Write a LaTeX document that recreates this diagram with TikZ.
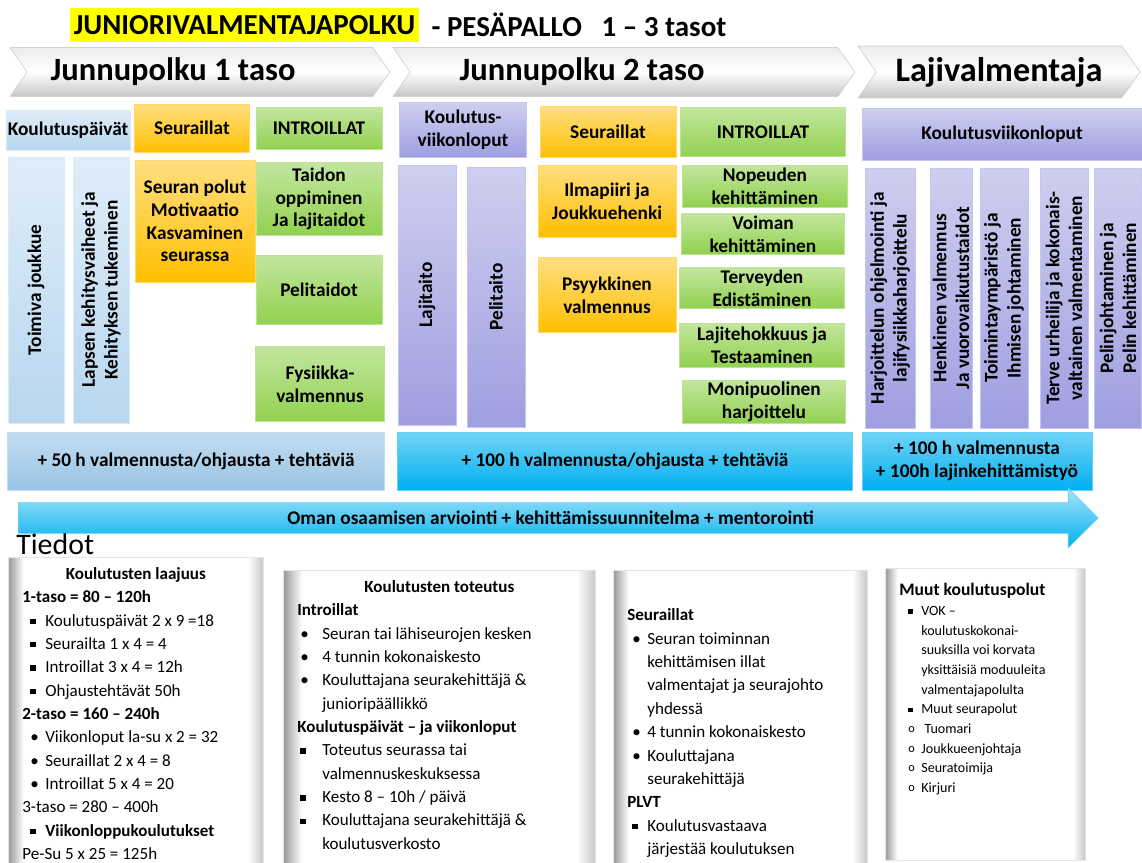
\documentclass[tikz,border=0pt]{standalone}
\usepackage{fontspec}
\setmainfont{Carlito}
\usepackage{tikz}
\usetikzlibrary{positioning,shapes.symbols,shapes.arrows}
\definecolor{paleblue}{rgb}{0.72, 0.84, 0.94}
\definecolor{steelblue}{rgb}{0.60, 0.77, 0.90}
\definecolor{skyblue}{rgb}{0.0, 0.69, 0.94}
\definecolor{amber}{rgb}{1.0, 0.75, 0.0}
\definecolor{leafgreen}{rgb}{0.57, 0.82, 0.31}
\definecolor{lavender}{rgb}{0.62, 0.62, 0.88}
\definecolor{hiyellow}{rgb}{1.0, 1.0, 0.0}

\pgfdeclarehorizontalshading{panelshade}{100bp}{color(0bp)=(black!40); color(25bp)=(black!40); color(28bp)=(white); color(72bp)=(white); color(75bp)=(black!22); color(100bp)=(black!22)}

\newcommand{\boxfont}{\fontsize{11}{13}\selectfont\bfseries}
\newcommand{\sqbul}{\rule[0.25ex]{0.32em}{0.32em}}
\newlength{\bulind}
\newlength{\txtind}
\newcommand{\listitem}[2]{\par\noindent\hangindent=\txtind\hangafter=1\makebox[\txtind][l]{\hspace*{\bulind}#1}#2\par}
\newcommand{\sqitem}[1]{\listitem{\sqbul}{#1}}
\newcommand{\dotitem}[1]{\listitem{\textbullet}{#1}}
\newcommand{\oitem}[1]{\listitem{\raisebox{0.15ex}{\scriptsize o}}{#1}}

\tikzset{
  lbl/.style={inner sep=1pt, align=center, font=\boxfont},
  pale/.style={lbl, top color=paleblue!45!white, bottom color=paleblue, draw=paleblue!50!white},
  steel/.style={lbl, top color=steelblue!60!white, bottom color=steelblue, draw=steelblue!60!white},
  sky/.style={lbl, top color=skyblue!55!white, bottom color=skyblue, draw=skyblue!60!white},
  gold/.style={lbl, top color=amber!50!white, bottom color=amber, draw=amber!60!white},
  leaf/.style={lbl, top color=leafgreen!55!white, bottom color=leafgreen, draw=leafgreen!60!white},
  lilac/.style={lbl, top color=lavender!50!white, bottom color=lavender, draw=lavender!60!white},
  upright/.style={rotate=90},
  header/.style={signal, signal from=west, signal to=east, signal pointer angle=110, top color=gray!15, bottom color=gray!45, middle color=white, draw=gray!35, inner sep=0pt, font=\fontsize{18.5}{20}\selectfont\bfseries},
  panel/.style={shading=panelshade, draw=gray!20, inner xsep=0.28cm, inner ysep=0.2cm, anchor=north west, font=\fontsize{9.7}{13.3}\selectfont},
}

\begin{document}
\begin{tikzpicture}[x=0.02cm, y=-0.02cm]
		\useasboundingbox (0,0) rectangle (1142,862);
		
		% otsikko
		\node[fill=hiyellow, inner xsep=2pt, inner ysep=0pt, minimum height=0.68cm, anchor=west, font=\fontsize{16.5}{18}\selectfont\bfseries] (title) at (70,25) {JUNIORIVALMENTAJAPOLKU};
		\node[right=7pt of title, inner sep=0pt, font=\fontsize{16.5}{18}\selectfont\bfseries] (sport) {- PESÄPALLO~~~1 -- 3 tasot};
		
		\node[header, minimum width=7.6cm, minimum height=0.98cm] (taso1) at (200,72) {Junnupolku 1 taso\hspace*{1.08cm}};
		\node[header, minimum width=9.24cm, minimum height=0.98cm] (taso2) at (624,72) {Junnupolku 2 taso\hspace*{1.68cm}};
		\node[header, minimum width=5.64cm, minimum height=1.04cm, font=\fontsize{19.5}{21}\selectfont\bfseries] (lajiv) at (999,72) {Lajivalmentaja};
		
		% 1 taso
		\node[pale, minimum width=2.44cm, minimum height=0.8cm] (kpaiv) at (68,130) {Koulutuspäivät};
		\node[gold, minimum width=2.3cm, minimum height=0.96cm] (seura1) at (192,128) {Seuraillat};
		\node[leaf, minimum width=2.52cm, minimum height=0.84cm] (intro1) at (319,128) {INTROILLAT};
		\node[pale, upright, minimum width=5.32cm, minimum height=1.12cm] (joukkue) at (36,290) {Toimiva joukkue};
		\node[pale, upright, minimum width=5.32cm, minimum height=1.12cm] (lapsen) at (101,290) {Lapsen kehitysvaiheet ja\\Kehityksen tukeminen};
		\node[gold, minimum width=2.4cm, minimum height=2.44cm] (polut) at (195,221) {Seuran polut\\Motivaatio\\Kasvaminen\\seurassa};
		\node[leaf, minimum width=2.52cm, minimum height=1.46cm] (taidon) at (319,199) {Taidon\\oppiminen\\Ja lajitaidot};
		\node[leaf, minimum width=2.52cm, minimum height=1.38cm] (pelit) at (319,290) {Pelitaidot};
		\node[leaf, minimum width=2.58cm, minimum height=1.5cm] (fysiikka) at (320,384) {Fysiikka-\\valmennus};
		
		% 2 taso
		\node[lilac, minimum width=2.54cm, minimum height=1.1cm] (kviik2) at (463,130) {Koulutus-\\viikonloput};
		\node[gold, minimum width=2.72cm, minimum height=1.02cm] (seura2) at (608,132) {Seuraillat};
		\node[leaf, minimum width=3.3cm, minimum height=0.98cm] (intro2) at (763,132) {INTROILLAT};
		\node[lilac, upright, minimum width=5.2cm, minimum height=1.16cm] (lajitaito) at (427,295) {Lajitaito};
		\node[lilac, upright, minimum width=5.2cm, minimum height=1.16cm] (pelitaito) at (496,297) {Pelitaito};
		\node[gold, minimum width=2.76cm, minimum height=1.44cm] (ilmapiiri) at (607,201) {Ilmapiiri ja\\Joukkuehenki};
		\node[gold, minimum width=2.76cm, minimum height=1.5cm] (psyyk) at (607,295) {Psyykkinen\\valmennus};
		\node[leaf, minimum width=3.3cm, minimum height=0.84cm] (nopeus) at (765,186) {Nopeuden\\kehittäminen};
		\node[leaf, minimum width=3.26cm, minimum height=0.8cm] (voima) at (763,234) {Voiman\\kehittäminen};
		\node[leaf, minimum width=3.3cm, minimum height=0.8cm] (terveys) at (762,288) {Terveyden\\Edistäminen};
		\node[leaf, minimum width=3.3cm, minimum height=0.88cm] (testaus) at (762,345) {Lajitehokkuus ja\\Testaaminen};
		\node[leaf, minimum width=3.26cm, minimum height=0.8cm] (monip) at (764,402) {Monipuolinen\\harjoittelu};
		
		% lajivalmentaja
		\node[lilac, minimum width=5.6cm, minimum height=1.04cm] (kviik3) at (1002,134) {Koulutusviikonloput};
		\node[lilac, upright, minimum width=5.2cm, minimum height=1.0cm] (ohjelm) at (890,298) {Harjoittelun ohjelmointi ja\\lajifysiikkaharjoittelu};
		\node[lilac, upright, minimum width=5.2cm, minimum height=0.84cm] (henkinen) at (951,298) {Henkinen valmennus\\Ja vuorovaikutustaidot};
		\node[lilac, upright, minimum width=5.2cm, minimum height=0.96cm] (toiminta) at (1004,298) {Toimintaympäristö ja\\Ihmisen johtaminen};
		\node[lilac, upright, minimum width=5.2cm, minimum height=0.96cm] (terve) at (1064,298) {Terve urheilija ja kokonais-\\valtainen valmentaminen};
		\node[lilac, upright, minimum width=5.2cm, minimum height=0.94cm] (pelinj) at (1118,298) {Pelinjohtaminen ja\\Pelin kehittäminen};
		
		% tunnit
		\node[steel, minimum width=7.54cm, minimum height=1.16cm] (tunnit1) at (196,461) {+ 50 h valmennusta/ohjausta + tehtäviä};
		\node[sky, minimum width=9.1cm, minimum height=1.16cm] (tunnit2) at (625,461) {+ 100 h valmennusta/ohjausta + tehtäviä};
		\node[sky, minimum width=4.6cm, minimum height=1.16cm] (tunnit3) at (977,461) {+ 100 h valmennusta\\+ 100h lajinkehittämistyö};
		
		\node[single arrow, single arrow head extend=0.28cm, minimum height=21.6cm, minimum width=1.2cm, inner ysep=0.15cm, top color=skyblue!35!white, bottom color=skyblue, draw=skyblue!60!white, font=\boxfont, anchor=tail] (mentor) at (18,518) {Oman osaamisen arviointi + kehittämissuunnitelma + mentorointi};
		
		\node[anchor=west, inner sep=0pt, font=\fontsize{17}{20}\selectfont] (tiedot) at (16,544) {Tiedot};
		
		% tiedot
		\node[panel] (laajuus) at (8,557) {\begin{minipage}[t][6.2cm][t]{4.54cm}
			\setlength{\bulind}{0.16cm}\setlength{\txtind}{0.46cm}
			{\centering\bfseries Koulutusten laajuus\par}
			\textbf{1-taso = 80 -- 120h}\par
			\sqitem{Koulutuspäivät 2 x 9 =18}
			\sqitem{Seurailta 1 x 4 = 4}
			\sqitem{Introillat 3 x 4 = 12h}
			\sqitem{Ohjaustehtävät 50h}
			\textbf{2-taso = 160 -- 240h}\par
			\dotitem{Viikonloput la-su x 2 = 32}
			\dotitem{Seuraillat 2 x 4 = 8}
			\dotitem{Introillat 5 x 4 = 20}
			3-taso = 280 -- 400h\par
			\sqitem{\textbf{Viikonloppukoulutukset}}
			Pe-Su 5 x 25 = 125h\par
		\end{minipage}};
		
		\node[panel] (toteutus) at (283,570) {\begin{minipage}[t][6cm][t]{5.68cm}
			\setlength{\bulind}{0.06cm}\setlength{\txtind}{0.5cm}
			{\centering\bfseries Koulutusten toteutus\par}
			\textbf{Introillat}\par
			\dotitem{Seuran tai lähiseurojen kesken}
			\dotitem{4 tunnin kokonaiskesto}
			\dotitem{Kouluttajana seurakehittäjä \&\newline junioripäällikkö}
			\textbf{Koulutuspäivät -- ja viikonloput}\par
			\sqitem{Toteutus seurassa tai\newline valmennuskeskuksessa}
			\sqitem{Kesto 8 -- 10h / päivä}
			\sqitem{Kouluttajana seurakehittäjä \&\newline koulutusverkosto}
		\end{minipage}};
		
		\node[panel] (seuraillat) at (613,570) {\begin{minipage}[t][6cm][t]{4.52cm}
			\setlength{\bulind}{0.1cm}\setlength{\txtind}{0.4cm}
			\vspace*{0.57cm}
			\textbf{Seuraillat}\par
			\dotitem{Seuran toiminnan\newline kehittämisen illat\newline valmentajat ja seurajohto\newline yhdessä}
			\dotitem{4 tunnin kokonaiskesto}
			\dotitem{Kouluttajana\newline seurakehittäjä}
			\textbf{PLVT}\par
			\sqitem{Koulutusvastaava\newline järjestää koulutuksen}
		\end{minipage}};
		
		\node[panel, font=\fontsize{8}{11.2}\selectfont] (muut) at (885,568) {\begin{minipage}[t][5.44cm][t]{3.44cm}
			\setlength{\bulind}{0.18cm}\setlength{\txtind}{0.44cm}
			\vspace*{0.1cm}
			{\fontsize{10}{13.8}\selectfont\bfseries Muut koulutuspolut\par}
			\sqitem{VOK --\newline koulutuskokonai-\newline suuksilla voi korvata\newline yksittäisiä moduuleita\newline valmentajapolulta}
			\sqitem{Muut seurapolut}
			\oitem{\ Tuomari}
			\oitem{Joukkueenjohtaja}
			\oitem{Seuratoimija}
			\oitem{Kirjuri}
		\end{minipage}};
		
		\end{tikzpicture}
\end{document}
